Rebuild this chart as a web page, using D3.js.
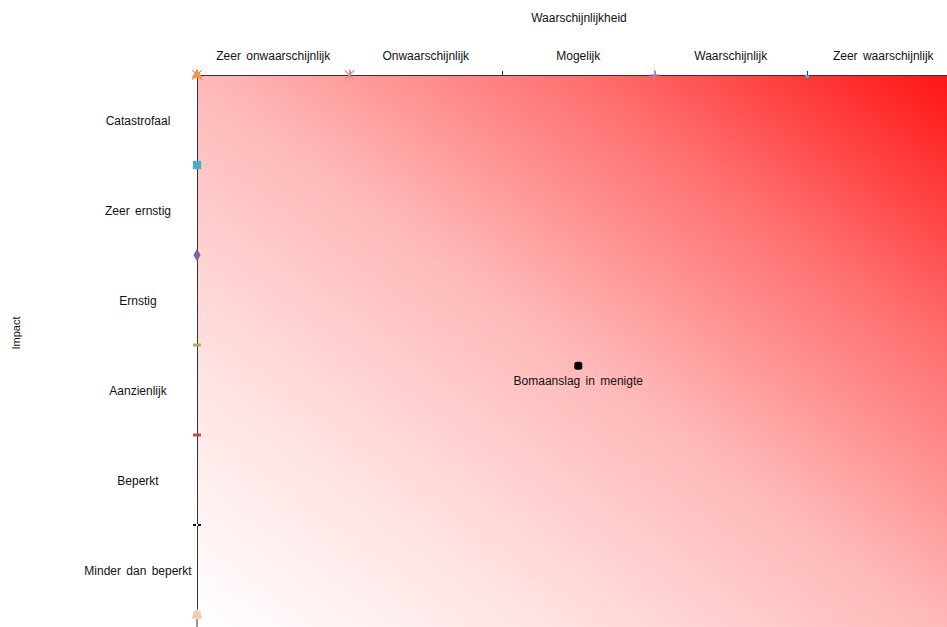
<!DOCTYPE html>
<html><head><meta charset="utf-8">
<script src="https://cdn.jsdelivr.net/npm/d3@7"></script>
<style>
html,body{margin:0;padding:0;background:#fff;overflow:hidden;}
svg{display:block;}
text{font-family:"Liberation Sans",Arial,sans-serif;fill:#111;}
</style>
</head><body><svg id="c" width="947" height="627"></svg>
<script>
// ---- data ----
const likelihoodLabels = ["Zeer onwaarschijnlijk","Onwaarschijnlijk","Mogelijk","Waarschijnlijk","Zeer waarschijnlijk"];
const impactLabels = ["Catastrofaal","Zeer ernstig","Ernstig","Aanzienlijk","Beperkt","Minder dan beperkt"];
const riskNames = ["Bomaanslag in menigte"];
const riskLikelihood = [2.5];   // in likelihood category units (0..5)
const riskImpact = [3.23];      // in impact category units from top (0..6)
const xTitle = "Waarschijnlijkheid";
const yTitle = "Impact";
const topMarkerPos = [0, 0, 1, 3, 4];
const topMarkerShape = ["x", "triangle", "asterisk", "plus", "dash"];
const leftMarkerPos = [1, 2, 3, 4, 5, 6, 6];
const leftMarkerShape = ["square", "diamond", "hdash", "hdash", "ddash", "square", "triangle"];

// ---- styles ----
const topMarkerColor = ["#8c8c8c", "#f79646", "#d99694", "#a592c4", "#4bacc6"];
const leftMarkerColor = ["#4bacc6", "#8064a2", "#9bbb59", "#c0504d", "#111", "#d6e3f2", "#f9c9a8"];

const W = 947, H = 627;
const svg = d3.select("#c");
const x = d3.scaleLinear().domain([0, 5]).range([197, 959.5]);
const y = d3.scaleLinear().domain([0, 6]).range([75, 615]);

// gradient
const defs = svg.append("defs");
const g = defs.append("linearGradient").attr("id", "bg")
  .attr("x1", 0).attr("y1", 1).attr("x2", 1).attr("y2", 0);
g.append("stop").attr("offset", 0).attr("stop-color", "#ffffff");
g.append("stop").attr("offset", 0.25).attr("stop-color", "#ffe0e0");
g.append("stop").attr("offset", 0.5).attr("stop-color", "#ffb8b8");
g.append("stop").attr("offset", 0.75).attr("stop-color", "#ff7070");
g.append("stop").attr("offset", 1).attr("stop-color", "#ff1414");

svg.append("rect").attr("x", x(0)).attr("y", y(0))
  .attr("width", W - x(0)).attr("height", H - y(0)).attr("fill", "url(#bg)");

// axes
const topAxis = svg.append("g").attr("transform", `translate(0,${y(0)})`)
  .call(d3.axisTop(x).tickValues(d3.range(0, 6)).tickSize(4).tickSizeOuter(0).tickFormat(""));
topAxis.select(".domain").attr("stroke", "#333");
topAxis.selectAll(".tick line").attr("stroke", "#333");

const leftAxis = svg.append("g").attr("transform", `translate(${x(0)},0)`)
  .call(d3.axisLeft(y).tickValues(d3.range(0, 7)).tickSize(3).tickSizeOuter(0).tickFormat(""));
leftAxis.select(".domain").attr("stroke", "#333");
leftAxis.selectAll(".tick line").attr("stroke", "#333");
svg.append("line").attr("x1", x(0)).attr("x2", x(0)).attr("y1", y(6)).attr("y2", H).attr("stroke", "#333");

// markers
function drawMarker(sel, shape, color) {
  if (shape === "triangle") {
    sel.append("path").attr("d", d3.symbol(d3.symbolTriangle, 55)()).attr("fill", color);
  } else if (shape === "square") {
    sel.append("path").attr("d", d3.symbol(d3.symbolSquare, 70)()).attr("fill", color);
  } else if (shape === "diamond") {
    sel.append("path").attr("d", d3.symbol(d3.symbolDiamond, 45)()).attr("fill", color);
  } else if (shape === "x") {
    sel.append("path").attr("d", d3.symbol(d3.symbolX, 60)()).attr("stroke", color).attr("fill", "none").attr("stroke-width", 1);
  } else if (shape === "asterisk") {
    sel.append("path").attr("d", d3.symbol(d3.symbolX, 60)()).attr("stroke", color).attr("fill", "none").attr("stroke-width", 1.2);
    sel.append("line").attr("x1", 0).attr("x2", 0).attr("y1", -6).attr("y2", 6).attr("stroke", color).attr("stroke-width", 1.2);
  } else if (shape === "plus") {
    sel.append("line").attr("x1", -5).attr("x2", 5).attr("y1", 0).attr("y2", 0).attr("stroke", color).attr("stroke-width", 1.2);
    sel.append("line").attr("x1", 0).attr("x2", 0).attr("y1", -5).attr("y2", 5).attr("stroke", color).attr("stroke-width", 1.2);
  } else if (shape === "dash") {
    sel.append("rect").attr("x", -2).attr("y", 0).attr("width", 4).attr("height", 3).attr("fill", color);
  } else if (shape === "hdash") {
    sel.append("rect").attr("x", -4).attr("y", -1.5).attr("width", 8).attr("height", 3).attr("fill", color);
  } else if (shape === "ddash") {
    sel.append("path").attr("d", d3.symbol(d3.symbolX, 40)()).attr("stroke", "#f3e0e0").attr("fill", "none");
    sel.append("rect").attr("x", -4).attr("y", -1).attr("width", 3).attr("height", 2).attr("fill", color);
    sel.append("rect").attr("x", 1).attr("y", -1).attr("width", 3).attr("height", 2).attr("fill", color);
  }
}
topMarkerPos.forEach((p, i) => {
  const m = svg.append("g").attr("transform", `translate(${x(p)},${y(0)})`);
  drawMarker(m, topMarkerShape[i], topMarkerColor[i]);
});
leftMarkerPos.forEach((p, i) => {
  const m = svg.append("g").attr("transform", `translate(${x(0)},${y(p)})`);
  drawMarker(m, leftMarkerShape[i], leftMarkerColor[i]);
});

// category labels
svg.append("g").selectAll("text").data(likelihoodLabels).join("text")
  .attr("x", (d, i) => x(i + 0.5)).attr("y", 57)
  .attr("text-anchor", "middle").attr("dominant-baseline", "middle")
  .attr("font-size", 12).attr("word-spacing", 2).text(d => d);

svg.append("g").selectAll("text").data(impactLabels).join("text")
  .attr("x", 138).attr("y", (d, i) => y(i + 0.5) + 2)
  .attr("text-anchor", "middle").attr("dominant-baseline", "middle")
  .attr("font-size", 12).attr("word-spacing", 2).text(d => d);

// titles
svg.append("text").attr("x", 579).attr("y", 19)
  .attr("text-anchor", "middle").attr("dominant-baseline", "middle")
  .attr("font-size", 12).text(xTitle);
svg.append("text").attr("transform", `translate(17,333) rotate(-90)`)
  .attr("text-anchor", "middle").attr("dominant-baseline", "middle")
  .attr("font-size", 11).text(yTitle);

// risk points
riskNames.forEach((n, i) => {
  const px = x(riskLikelihood[i]), py = y(riskImpact[i]);
  svg.append("rect").attr("x", px - 4).attr("y", py - 4).attr("width", 8).attr("height", 8)
    .attr("rx", 2.5).attr("fill", "#000");
  svg.append("text").attr("x", px).attr("y", py + 16)
    .attr("text-anchor", "middle").attr("dominant-baseline", "middle")
    .attr("font-size", 12).attr("word-spacing", 2).text(n);
});
</script>
</body></html>
